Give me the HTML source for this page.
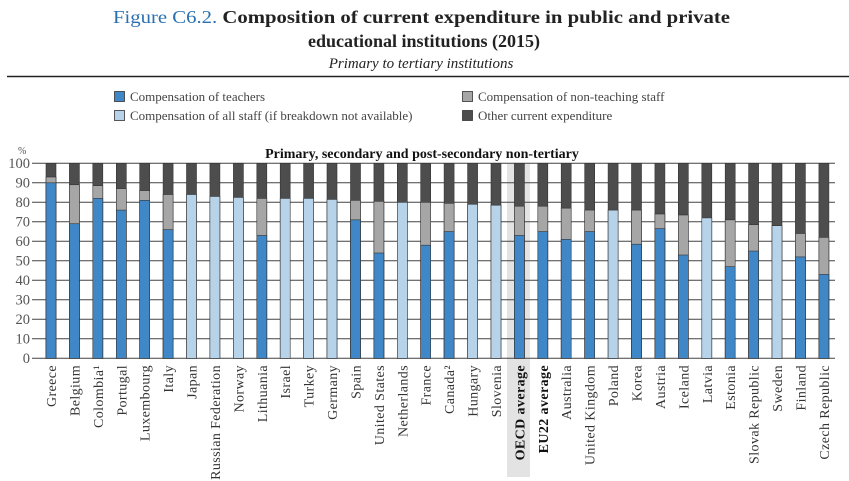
<!DOCTYPE html>
<html><head><meta charset="utf-8"><style>
html,body{margin:0;padding:0;background:#fff;}
svg{display:block;}
text{font-family:"Liberation Serif",serif;}
</style></head><body>
<svg width="849" height="481" viewBox="0 0 849 481" xmlns="http://www.w3.org/2000/svg">
<text x="113" y="23" font-size="18" font-weight="bold" fill="#222" textLength="617" lengthAdjust="spacingAndGlyphs"><tspan fill="#2a6fb0" font-weight="normal">Figure C6.2.</tspan>  Composition of current expenditure in public and private</text>
<text x="424" y="47" font-size="18" font-weight="bold" fill="#222" text-anchor="middle">educational institutions (2015)</text>
<text x="421" y="68" font-size="15" font-style="italic" fill="#222" text-anchor="middle">Primary to tertiary institutions</text>
<line x1="7" y1="76.5" x2="849" y2="76.5" stroke="#222" stroke-width="1.5"/>
<g font-size="13" fill="#444">
<rect x="114.5" y="91.5" width="10" height="10" fill="#3f87c6" stroke="#333" stroke-width="0.8"/>
<text x="130" y="101">Compensation of teachers</text>
<rect x="114.5" y="110.5" width="10" height="10" fill="#b7d3ea" stroke="#333" stroke-width="0.8"/>
<text x="130" y="120">Compensation of all staff (if breakdown not available)</text>
<rect x="462.5" y="91.5" width="10" height="10" fill="#a6a6a6" stroke="#333" stroke-width="0.8"/>
<text x="478" y="101">Compensation of non-teaching staff</text>
<rect x="462.5" y="110.5" width="10" height="10" fill="#4d4d4d" stroke="#333" stroke-width="0.8"/>
<text x="478" y="120">Other current expenditure</text>
</g>
<rect x="507" y="163" width="23" height="314" fill="#e3e3e3"/>
<text x="422" y="158" font-size="14" font-weight="bold" fill="#111" text-anchor="middle">Primary, secondary and post-secondary non-tertiary</text>
<text x="18" y="154" font-size="10" fill="#555">%</text>
<g stroke="#444" stroke-width="1">
<line x1="32" y1="163.3" x2="835" y2="163.3"/><line x1="32" y1="182.8" x2="835" y2="182.8"/><line x1="32" y1="202.3" x2="835" y2="202.3"/><line x1="32" y1="221.8" x2="835" y2="221.8"/><line x1="32" y1="241.3" x2="835" y2="241.3"/><line x1="32" y1="260.8" x2="835" y2="260.8"/><line x1="32" y1="280.3" x2="835" y2="280.3"/><line x1="32" y1="299.8" x2="835" y2="299.8"/><line x1="32" y1="319.3" x2="835" y2="319.3"/><line x1="32" y1="338.8" x2="835" y2="338.8"/><line x1="32" y1="358.3" x2="835" y2="358.3"/>
</g>
<g font-size="14.5" fill="#555" text-anchor="end">
<text x="30" y="168">100</text><text x="30" y="187.5">90</text><text x="30" y="207">80</text><text x="30" y="226.5">70</text><text x="30" y="246">60</text><text x="30" y="265.5">50</text><text x="30" y="285">40</text><text x="30" y="304.5">30</text><text x="30" y="324">20</text><text x="30" y="343.5">10</text><text x="30" y="363">0</text>
</g>
<g stroke="#333" stroke-width="0.6">
<g transform="translate(46,0)"><rect width="10" y="163.3" height="195" fill="#4d4d4d"/><rect width="10" y="177" height="181.3" fill="#a6a6a6"/><rect width="10" y="182.8" height="175.5" fill="#3f87c6"/></g>
<g transform="translate(69.4,0)"><rect width="10" y="163.3" height="195" fill="#4d4d4d"/><rect width="10" y="184.75" height="173.55" fill="#a6a6a6"/><rect width="10" y="223.75" height="134.55" fill="#3f87c6"/></g>
<g transform="translate(92.8,0)"><rect width="10" y="163.3" height="195" fill="#4d4d4d"/><rect width="10" y="185.7" height="172.6" fill="#a6a6a6"/><rect width="10" y="198.4" height="159.9" fill="#3f87c6"/></g>
<g transform="translate(116.3,0)"><rect width="10" y="163.3" height="195" fill="#4d4d4d"/><rect width="10" y="188.65" height="169.65" fill="#a6a6a6"/><rect width="10" y="210.1" height="148.2" fill="#3f87c6"/></g>
<g transform="translate(139.7,0)"><rect width="10" y="163.3" height="195" fill="#4d4d4d"/><rect width="10" y="190.6" height="167.7" fill="#a6a6a6"/><rect width="10" y="200.35" height="157.95" fill="#3f87c6"/></g>
<g transform="translate(163.1,0)"><rect width="10" y="163.3" height="195" fill="#4d4d4d"/><rect width="10" y="194.5" height="163.8" fill="#a6a6a6"/><rect width="10" y="229.6" height="128.7" fill="#3f87c6"/></g>
<g transform="translate(186.5,0)"><rect width="10" y="163.3" height="195" fill="#4d4d4d"/><rect width="10" y="194.5" height="163.8" fill="#b7d3ea"/></g>
<g transform="translate(209.9,0)"><rect width="10" y="163.3" height="195" fill="#4d4d4d"/><rect width="10" y="196.45" height="161.85" fill="#b7d3ea"/></g>
<g transform="translate(233.4,0)"><rect width="10" y="163.3" height="195" fill="#4d4d4d"/><rect width="10" y="197.4" height="160.9" fill="#b7d3ea"/></g>
<g transform="translate(256.8,0)"><rect width="10" y="163.3" height="195" fill="#4d4d4d"/><rect width="10" y="198.4" height="159.9" fill="#a6a6a6"/><rect width="10" y="235.45" height="122.85" fill="#3f87c6"/></g>
<g transform="translate(280.2,0)"><rect width="10" y="163.3" height="195" fill="#4d4d4d"/><rect width="10" y="198.4" height="159.9" fill="#b7d3ea"/></g>
<g transform="translate(303.6,0)"><rect width="10" y="163.3" height="195" fill="#4d4d4d"/><rect width="10" y="198.4" height="159.9" fill="#b7d3ea"/></g>
<g transform="translate(327,0)"><rect width="10" y="163.3" height="195" fill="#4d4d4d"/><rect width="10" y="199.4" height="158.9" fill="#b7d3ea"/></g>
<g transform="translate(350.5,0)"><rect width="10" y="163.3" height="195" fill="#4d4d4d"/><rect width="10" y="200.35" height="157.95" fill="#a6a6a6"/><rect width="10" y="219.85" height="138.45" fill="#3f87c6"/></g>
<g transform="translate(373.9,0)"><rect width="10" y="163.3" height="195" fill="#4d4d4d"/><rect width="10" y="201.3" height="157" fill="#a6a6a6"/><rect width="10" y="253" height="105.3" fill="#3f87c6"/></g>
<g transform="translate(397.3,0)"><rect width="10" y="163.3" height="195" fill="#4d4d4d"/><rect width="10" y="202.3" height="156" fill="#b7d3ea"/></g>
<g transform="translate(420.7,0)"><rect width="10" y="163.3" height="195" fill="#4d4d4d"/><rect width="10" y="202.3" height="156" fill="#a6a6a6"/><rect width="10" y="245.2" height="113.1" fill="#3f87c6"/></g>
<g transform="translate(444.1,0)"><rect width="10" y="163.3" height="195" fill="#4d4d4d"/><rect width="10" y="203.3" height="155" fill="#a6a6a6"/><rect width="10" y="231.55" height="126.75" fill="#3f87c6"/></g>
<g transform="translate(467.6,0)"><rect width="10" y="163.3" height="195" fill="#4d4d4d"/><rect width="10" y="204.25" height="154.05" fill="#b7d3ea"/></g>
<g transform="translate(491,0)"><rect width="10" y="163.3" height="195" fill="#4d4d4d"/><rect width="10" y="205.2" height="153.1" fill="#b7d3ea"/></g>
<g transform="translate(514.4,0)"><rect width="10" y="163.3" height="195" fill="#4d4d4d"/><rect width="10" y="206.2" height="152.1" fill="#a6a6a6"/><rect width="10" y="235.45" height="122.85" fill="#3f87c6"/></g>
<g transform="translate(537.8,0)"><rect width="10" y="163.3" height="195" fill="#4d4d4d"/><rect width="10" y="206.2" height="152.1" fill="#a6a6a6"/><rect width="10" y="231.55" height="126.75" fill="#3f87c6"/></g>
<g transform="translate(561.2,0)"><rect width="10" y="163.3" height="195" fill="#4d4d4d"/><rect width="10" y="208.15" height="150.15" fill="#a6a6a6"/><rect width="10" y="239.35" height="118.95" fill="#3f87c6"/></g>
<g transform="translate(584.7,0)"><rect width="10" y="163.3" height="195" fill="#4d4d4d"/><rect width="10" y="210.1" height="148.2" fill="#a6a6a6"/><rect width="10" y="231.55" height="126.75" fill="#3f87c6"/></g>
<g transform="translate(608.1,0)"><rect width="10" y="163.3" height="195" fill="#4d4d4d"/><rect width="10" y="210.1" height="148.2" fill="#b7d3ea"/></g>
<g transform="translate(631.5,0)"><rect width="10" y="163.3" height="195" fill="#4d4d4d"/><rect width="10" y="210.1" height="148.2" fill="#a6a6a6"/><rect width="10" y="244.2" height="114.1" fill="#3f87c6"/></g>
<g transform="translate(654.9,0)"><rect width="10" y="163.3" height="195" fill="#4d4d4d"/><rect width="10" y="214" height="144.3" fill="#a6a6a6"/><rect width="10" y="228.6" height="129.7" fill="#3f87c6"/></g>
<g transform="translate(678.3,0)"><rect width="10" y="163.3" height="195" fill="#4d4d4d"/><rect width="10" y="215" height="143.3" fill="#a6a6a6"/><rect width="10" y="255" height="103.3" fill="#3f87c6"/></g>
<g transform="translate(701.8,0)"><rect width="10" y="163.3" height="195" fill="#4d4d4d"/><rect width="10" y="217.9" height="140.4" fill="#b7d3ea"/></g>
<g transform="translate(725.2,0)"><rect width="10" y="163.3" height="195" fill="#4d4d4d"/><rect width="10" y="219.85" height="138.45" fill="#a6a6a6"/><rect width="10" y="266.65" height="91.65" fill="#3f87c6"/></g>
<g transform="translate(748.6,0)"><rect width="10" y="163.3" height="195" fill="#4d4d4d"/><rect width="10" y="224.7" height="133.6" fill="#a6a6a6"/><rect width="10" y="251.05" height="107.25" fill="#3f87c6"/></g>
<g transform="translate(772,0)"><rect width="10" y="163.3" height="195" fill="#4d4d4d"/><rect width="10" y="225.7" height="132.6" fill="#b7d3ea"/></g>
<g transform="translate(795.4,0)"><rect width="10" y="163.3" height="195" fill="#4d4d4d"/><rect width="10" y="233.5" height="124.8" fill="#a6a6a6"/><rect width="10" y="256.9" height="101.4" fill="#3f87c6"/></g>
<g transform="translate(818.9,0)"><rect width="10" y="163.3" height="195" fill="#4d4d4d"/><rect width="10" y="237.4" height="120.9" fill="#a6a6a6"/><rect width="10" y="274.45" height="83.85" fill="#3f87c6"/></g>
</g>
<g font-size="14" fill="#333" text-anchor="end" letter-spacing="0.4">
<text transform="translate(56,365) rotate(-90)">Greece</text>
<text transform="translate(79.4,365) rotate(-90)">Belgium</text>
<text transform="translate(102.8,365) rotate(-90)">Colombia¹</text>
<text transform="translate(126.3,365) rotate(-90)">Portugal</text>
<text transform="translate(149.7,365) rotate(-90)">Luxembourg</text>
<text transform="translate(173.1,365) rotate(-90)">Italy</text>
<text transform="translate(196.5,365) rotate(-90)">Japan</text>
<text transform="translate(219.9,365) rotate(-90)">Russian Federation</text>
<text transform="translate(243.4,365) rotate(-90)">Norway</text>
<text transform="translate(266.8,365) rotate(-90)">Lithuania</text>
<text transform="translate(290.2,365) rotate(-90)">Israel</text>
<text transform="translate(313.6,365) rotate(-90)">Turkey</text>
<text transform="translate(337,365) rotate(-90)">Germany</text>
<text transform="translate(360.5,365) rotate(-90)">Spain</text>
<text transform="translate(383.9,365) rotate(-90)">United States</text>
<text transform="translate(407.3,365) rotate(-90)">Netherlands</text>
<text transform="translate(430.7,365) rotate(-90)">France</text>
<text transform="translate(454.1,365) rotate(-90)">Canada²</text>
<text transform="translate(477.6,365) rotate(-90)">Hungary</text>
<text transform="translate(501,365) rotate(-90)">Slovenia</text>
<text transform="translate(524.4,365) rotate(-90)" font-weight="bold" fill="#111">OECD average</text>
<text transform="translate(547.8,365) rotate(-90)" font-weight="bold" fill="#111">EU22 average</text>
<text transform="translate(571.2,365) rotate(-90)">Australia</text>
<text transform="translate(594.7,365) rotate(-90)">United Kingdom</text>
<text transform="translate(618.1,365) rotate(-90)">Poland</text>
<text transform="translate(641.5,365) rotate(-90)">Korea</text>
<text transform="translate(664.9,365) rotate(-90)">Austria</text>
<text transform="translate(688.3,365) rotate(-90)">Iceland</text>
<text transform="translate(711.8,365) rotate(-90)">Latvia</text>
<text transform="translate(735.2,365) rotate(-90)">Estonia</text>
<text transform="translate(758.6,365) rotate(-90)">Slovak Republic</text>
<text transform="translate(782,365) rotate(-90)">Sweden</text>
<text transform="translate(805.4,365) rotate(-90)">Finland</text>
<text transform="translate(828.9,365) rotate(-90)">Czech Republic</text>
</g>
</svg>
</body></html>
